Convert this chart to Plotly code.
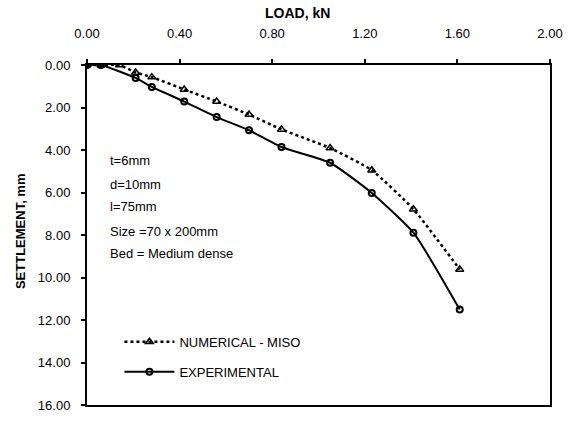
import plotly.graph_objects as go

# Data
num_load = [0.00, 0.06, 0.14, 0.21, 0.28, 0.42, 0.56, 0.70, 0.84, 1.05, 1.23, 1.41, 1.61]
num_settle = [0.00, 0.00, 0.00, 0.35, 0.57, 1.15, 1.72, 2.33, 3.03, 3.91, 4.95, 6.79, 9.62]

exp_load = [0.00, 0.06, 0.21, 0.28, 0.42, 0.56, 0.70, 0.84, 1.05, 1.23, 1.41, 1.61]
exp_settle = [0.00, 0.00, 0.61, 1.03, 1.72, 2.45, 3.07, 3.86, 4.60, 6.02, 7.89, 11.51]

x_ticks = [0.0, 0.4, 0.8, 1.2, 1.6, 2.0]
y_ticks = [0, 2, 4, 6, 8, 10, 12, 14, 16]

notes = ["t=6mm", "d=10mm", "l=75mm", "Size =70 x 200mm", "Bed = Medium dense"]

FONT = "Liberation Sans, Arial, sans-serif"

fig = go.Figure()
fig.add_trace(go.Scatter(
    x=num_load, y=num_settle, mode="lines+markers", name="NUMERICAL - MISO",
    line=dict(color="black", width=2.5, dash="dot", shape="spline", smoothing=0.5),
    marker=dict(symbol="triangle-up-open", size=7, color="black", line=dict(width=1.5)),
    legendgroup="a",
))
fig.add_trace(go.Scatter(
    x=exp_load, y=exp_settle, mode="lines+markers", name="EXPERIMENTAL",
    line=dict(color="black", width=2, shape="spline", smoothing=0.5),
    marker=dict(symbol="circle-open", size=6, color="black", line=dict(width=2)),
    legendgroup="b",
))

W, H = 573, 423
L, R, T, B = 87, 15, 65, 10
ph = H - T - B

def py(p):
    return (H - B - p) / ph

annotations = [
    dict(text="<b>LOAD, kN</b>", xref="paper", yref="paper", x=(301 - L) / (W - L - R), y=py(12),
         xanchor="center", yanchor="middle", showarrow=False, font=dict(family=FONT, size=14, color="black")),
    dict(text="<b>SETTLEMENT, mm</b>", xref="paper", yref="paper", x=0, xshift=-67, y=py(235),
         xanchor="center", yanchor="middle", textangle=-90, showarrow=False,
         font=dict(family=FONT, size=13, color="black")),
]
note_y = [163, 187, 210, 235, 258]
for t, yy in zip(notes, note_y):
    annotations.append(dict(text=t, xref="paper", yref="paper", x=(108 - L) / (W - L - R), y=py(yy),
                            xanchor="left", yanchor="middle", showarrow=False,
                            font=dict(family=FONT, size=13, color="black")))

fig.update_layout(
    width=W, height=H,
    margin=dict(l=L, r=R, t=T, b=B),
    paper_bgcolor="white", plot_bgcolor="white",
    font=dict(family=FONT, color="black"),
    showlegend=True,
    legend=dict(x=(120 - L) / (W - L - R), y=py(333), xanchor="left", yanchor="top",
                bgcolor="rgba(0,0,0,0)", font=dict(family=FONT, size=13, color="black"),
                traceorder="grouped", tracegroupgap=10, itemwidth=50),
    annotations=annotations,
)
fig.update_xaxes(
    range=[0, 2], side="top", tickvals=x_ticks, tickformat=".2f",
    showgrid=False, zeroline=False, showline=True, linecolor="black", linewidth=2, mirror=True,
    ticks="outside", ticklen=4, tickwidth=1.5, tickcolor="black",
    tickfont=dict(family=FONT, size=13, color="black"), ticklabelstandoff=16,
)
fig.update_yaxes(
    range=[16, 0], tickvals=y_ticks, tickformat=".2f",
    showgrid=False, zeroline=False, showline=True, linecolor="black", linewidth=2, mirror=True,
    ticks="outside", ticklen=4, tickwidth=1.5, tickcolor="black",
    tickfont=dict(family=FONT, size=13, color="black"), ticklabelstandoff=8,
)

fig.write_html("out.html")
